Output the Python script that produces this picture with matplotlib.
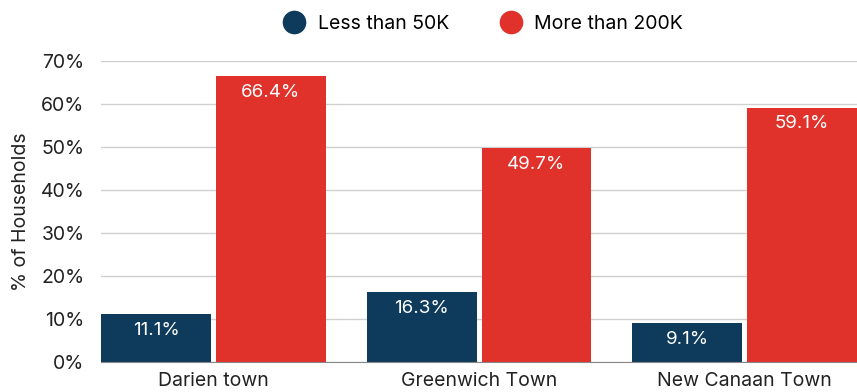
import matplotlib.pyplot as plt
import numpy as np
from matplotlib.lines import Line2D

plt.rcParams['font.family'] = ['Inter', 'DejaVu Sans']

towns = ["Darien town", "Greenwich Town", "New Canaan Town"]
less_50k = [11.1, 16.3, 9.1]
more_200k = [66.4, 49.7, 59.1]
series_names = ["Less than 50K", "More than 200K"]
colors = ["#0e3a5c", "#e0312a"]

fig = plt.figure(figsize=(8.57, 3.92), dpi=100)
ax = fig.add_axes([0.118, 0.0765, 0.882, 0.768])

x = np.arange(len(towns))
w = 0.413
off = 0.216
for vals, dx, c in [(less_50k, -off, colors[0]), (more_200k, off, colors[1])]:
    bars = ax.bar(x + dx, vals, width=w, color=c, zorder=3)
    for b, v in zip(bars, vals):
        ax.annotate(f"{v:.1f}%", (b.get_x() + b.get_width() / 2, v),
                    xytext=(0, -5.5), textcoords="offset points",
                    ha="center", va="top", color="white", fontsize=13.5, zorder=4)

ax.set_xlim(-0.4225, 2.4225)
ax.set_ylim(0, 70)
ax.set_yticks(range(0, 71, 10))
ax.set_yticklabels([f"{t}%" for t in range(0, 71, 10)])
ax.set_xticks(x)
ax.set_xticklabels(towns)
ax.tick_params(axis="both", length=0, labelsize=14, colors="#222222")
ax.tick_params(axis="x", pad=7)
ax.tick_params(axis="y", pad=12)
ax.grid(axis="y", color="#d0d0d0", linewidth=1, zorder=0)
for s in ["top", "right", "left"]:
    ax.spines[s].set_visible(False)
ax.spines["bottom"].set_color("#888888")
ax.spines["bottom"].set_zorder(5)
ax.set_ylabel("% of Households", fontsize=14, color="#222222", labelpad=8)

handles = [Line2D([], [], marker="o", linestyle="", markersize=16, color=c) for c in colors]
ax.legend(handles, series_names, loc="lower center", bbox_to_anchor=(0.5, 1.035),
          ncol=2, frameon=False, fontsize=14, handletextpad=0.2, columnspacing=2.2)

fig.savefig("out.png", dpi=100)
